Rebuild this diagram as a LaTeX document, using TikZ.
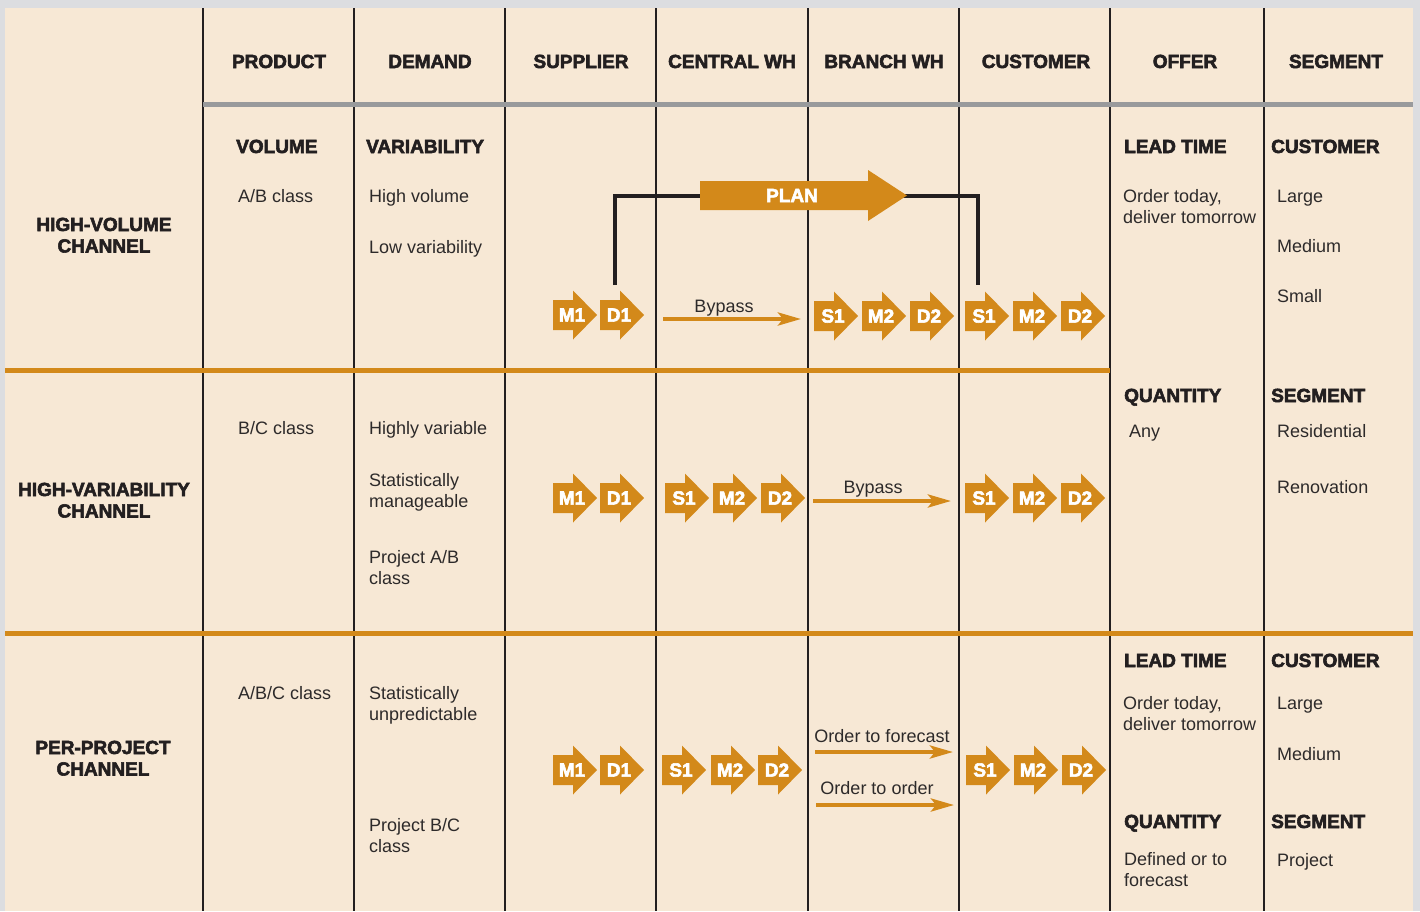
\documentclass[tikz,border=0pt]{standalone}
\usepackage{fontspec}
\setmainfont{Liberation Sans}
\newfontfamily\heavy{Liberation Sans}[BoldFeatures={FakeBold=3}]
\usetikzlibrary{arrows.meta}
\definecolor{outer}{RGB}{220,221,224}
\definecolor{paper}{RGB}{247,232,213}
\definecolor{ink}{RGB}{35,31,32}
\definecolor{rule}{RGB}{153,154,156}
\definecolor{amber}{RGB}{211,137,26}
\definecolor{txt}{RGB}{45,42,42}
\tikzset{
 vline/.style={draw=ink, line width=2.5pt},
 hd/.style={font=\heavy\bfseries\fontsize{19}{21.5}\selectfont, text=ink, inner sep=0pt},
 bd/.style={font=\fontsize{18}{21.5}\selectfont, text=txt, inner sep=0pt},
 tiletext/.style={font=\heavy\bfseries\fontsize{19}{21}\selectfont, text=white, inner sep=0pt},
 flow/.style={draw=amber, line width=4pt, -{Stealth[length=23pt,width=13pt,inset=5pt]}},
 planline/.style={draw=ink, line width=4pt},
}
\newcommand{\arrtile}[4]{%
  \fill[amber] (#2,#3-15) -- (#2+20,#3-15) -- (#2+20,#3-24.5) -- (#2+44,#3)
     -- (#2+20,#3+24.5) -- (#2+20,#3+15) -- (#2,#3+15) -- cycle;
  \node[tiletext] (#1) at (#2+19,#3) {#4};}
\newcommand{\twol}[2]{\begin{tabular}[t]{@{}l@{}}#1\\#2\end{tabular}}
\newcommand{\twoc}[2]{\begin{tabular}[t]{@{}c@{}}#1\\#2\end{tabular}}
\begin{document}
\begin{tikzpicture}[x=1pt,y=-1pt]
\fill[outer] (0,0) rectangle (1420,911);
\useasboundingbox (0,0) rectangle (1420,911);
\fill[paper] (5,8) rectangle (1413,911);
% grid
\foreach \xx in {203,354,505,656,808,959,1110,1264}
  \draw[vline] (\xx,8) -- (\xx,911);
\draw[draw=rule, line width=5pt] (203,104.5) -- (1413,104.5);
\draw[draw=amber, line width=5pt] (5,370.5) -- (1110,370.5);
\draw[draw=amber, line width=5pt] (5,633.5) -- (1413,633.5);
% headers
\node[hd, anchor=base] (hProd) at (279,68) {PRODUCT};
\node[hd, anchor=base] (hDem) at (430,68) {DEMAND};
\node[hd, anchor=base] (hSup) at (581,68) {SUPPLIER};
\node[hd, anchor=base] (hCwh) at (732,68) {CENTRAL WH};
\node[hd, anchor=base] (hBwh) at (884,68) {BRANCH WH};
\node[hd, anchor=base] (hCus) at (1036,68) {CUSTOMER};
\node[hd, anchor=base] (hOff) at (1185,68) {OFFER};
\node[hd, anchor=base] (hSeg) at (1336,68) {SEGMENT};
% row labels
\node[hd, anchor=base] (r1) at (104,231) {\twoc{HIGH-VOLUME}{CHANNEL}};
\node[hd, anchor=base] (r2) at (104,496) {\twoc{HIGH-VARIABILITY}{CHANNEL}};
\node[hd, anchor=base] (r3) at (103,754) {\twoc{PER-PROJECT}{CHANNEL}};
% row 1 texts
\node[hd, anchor=base west] (vol) at (236,153) {VOLUME};
\node[hd, anchor=base west] (var) at (366,153) {VARIABILITY};
\node[bd, anchor=base west] (ab) at (238,202) {A/B class};
\node[bd, anchor=base west] (hv) at (369,202) {High volume};
\node[bd, anchor=base west] (lv) at (369,253) {Low variability};
\node[hd, anchor=base west] (lt1) at (1124,153) {LEAD TIME};
\node[bd, anchor=base west] (od1) at (1123,202) {\twol{Order today,}{deliver tomorrow}};
\node[hd, anchor=base west] (cu1) at (1271,153) {CUSTOMER};
\node[bd, anchor=base west] (lg1) at (1277,202) {Large};
\node[bd, anchor=base west] (md1) at (1277,252) {Medium};
\node[bd, anchor=base west] (sm1) at (1277,302) {Small};
% row 2 texts
\node[bd, anchor=base west] (bc) at (238,434) {B/C class};
\node[bd, anchor=base west] (hvar) at (369,434) {Highly variable};
\node[bd, anchor=base west] (stm) at (369,486) {\twol{Statistically}{manageable}};
\node[bd, anchor=base west] (pab) at (369,563) {\twol{Project A/B}{class}};
\node[hd, anchor=base west] (qt2) at (1124,402) {QUANTITY};
\node[bd, anchor=base west] (any) at (1129,437) {Any};
\node[hd, anchor=base west] (sg2) at (1271,402) {SEGMENT};
\node[bd, anchor=base west] (res) at (1277,437) {Residential};
\node[bd, anchor=base west] (ren) at (1277,493) {Renovation};
% row 3 texts
\node[bd, anchor=base west] (abc) at (238,699) {A/B/C class};
\node[bd, anchor=base west] (stu) at (369,699) {\twol{Statistically}{unpredictable}};
\node[bd, anchor=base west] (pbc) at (369,831) {\twol{Project B/C}{class}};
\node[hd, anchor=base west] (lt3) at (1124,667) {LEAD TIME};
\node[bd, anchor=base west] (od3) at (1123,709) {\twol{Order today,}{deliver tomorrow}};
\node[hd, anchor=base west] (cu3) at (1271,667) {CUSTOMER};
\node[bd, anchor=base west] (lg3) at (1277,709) {Large};
\node[bd, anchor=base west] (md3) at (1277,760) {Medium};
\node[hd, anchor=base west] (qt3) at (1124,828) {QUANTITY};
\node[bd, anchor=base west] (dof) at (1124,865) {\twol{Defined or to}{forecast}};
\node[hd, anchor=base west] (sg3) at (1271,828) {SEGMENT};
\node[bd, anchor=base west] (prj) at (1277,866) {Project};
% plan line and arrow
\coordinate (pA) at (615,285);
\coordinate (pC) at (978,285);
\coordinate (plan) at (792,196);
\draw[planline] (pA) |- (plan) -| (pC);
\fill[amber] (700,181) -- (868,181) -- (868,170) -- (907,195.5) -- (868,221) -- (868,210) -- (700,210) -- cycle;
\node[tiletext] (planlbl) at (792,195.5) {PLAN};
% row 1 tiles
\arrtile{aM1}{553}{315}{M1}
\arrtile{aD1}{600}{315}{D1}
\arrtile{aS1}{814}{316}{S1}
\arrtile{aM2}{862}{316}{M2}
\arrtile{aD2}{910}{316}{D2}
\arrtile{aS1c}{965}{316}{S1}
\arrtile{aM2c}{1013}{316}{M2}
\arrtile{aD2c}{1061}{316}{D2}
% row 2 tiles
\arrtile{bM1}{553}{498}{M1}
\arrtile{bD1}{600}{498}{D1}
\arrtile{bS1}{665}{498}{S1}
\arrtile{bM2}{713}{498}{M2}
\arrtile{bD2}{761}{498}{D2}
\arrtile{bS1c}{965}{498}{S1}
\arrtile{bM2c}{1013}{498}{M2}
\arrtile{bD2c}{1061}{498}{D2}
% row 3 tiles
\arrtile{cM1}{553}{770}{M1}
\arrtile{cD1}{600}{770}{D1}
\arrtile{cS1}{662}{770}{S1}
\arrtile{cM2}{711}{770}{M2}
\arrtile{cD2}{758}{770}{D2}
\arrtile{cS1c}{966}{770}{S1}
\arrtile{cM2c}{1014}{770}{M2}
\arrtile{cD2c}{1062}{770}{D2}
% flows
\coordinate (f1s) at (663,319); \coordinate (f1e) at (801,319);
\draw[flow] (f1s) -- (f1e);
\node[bd, anchor=base] (by1) at (724,312) {Bypass};
\coordinate (f2s) at (813,501); \coordinate (f2e) at (951,501);
\draw[flow] (f2s) -- (f2e);
\node[bd, anchor=base] (by2) at (873,493) {Bypass};
\coordinate (f3s) at (815,752); \coordinate (f3e) at (953,752);
\draw[flow] (f3s) -- (f3e);
\node[bd, anchor=base] (otf) at (882,742) {Order to forecast};
\coordinate (f4s) at (816,805); \coordinate (f4e) at (954,805);
\draw[flow] (f4s) -- (f4e);
\node[bd, anchor=base] (oto) at (877,794) {Order to order};
\end{tikzpicture}
\end{document}
